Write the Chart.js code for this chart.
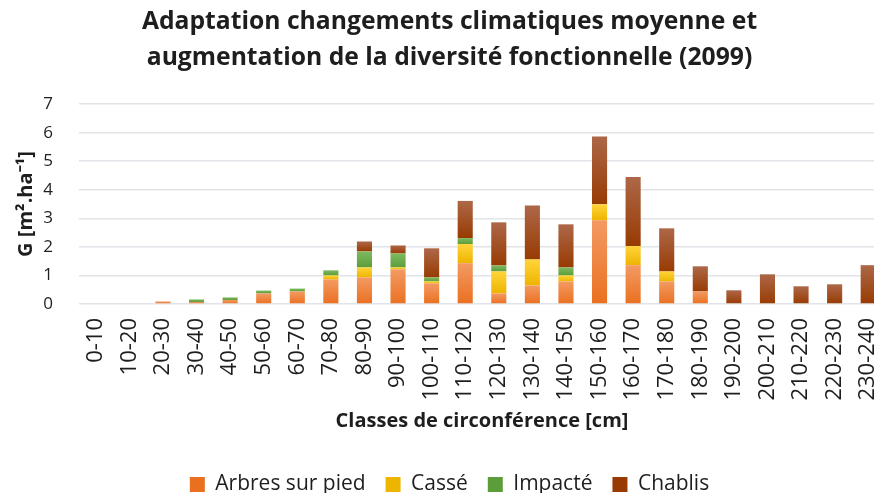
<!DOCTYPE html>
<html>
<head>
<meta charset="utf-8">
<script src="https://cdn.jsdelivr.net/npm/chart.js@4"></script>
<style>
  body { margin: 0; overflow: hidden; background: #fff; }
  #wrap { width: 902px; height: 505px; }
</style>
</head>
<body>
<div id="wrap"><canvas id="myChart" width="902" height="505"></canvas></div>
<script>
const categories = ['0-10', '10-20', '20-30', '30-40', '40-50', '50-60', '60-70', '70-80',
  '80-90', '90-100', '100-110', '110-120', '120-130', '130-140', '140-150', '150-160',
  '160-170', '170-180', '180-190', '190-200', '200-210', '210-220', '220-230', '230-240'];

const arbres  = [0, 0, 0.09, 0.07, 0.14, 0.37, 0.44, 0.86, 0.93, 1.21, 0.72, 1.43, 0.37, 0.65, 0.79, 2.93, 1.36, 0.79, 0.44, 0, 0, 0, 0, 0];
const casse   = [0, 0, 0, 0, 0, 0, 0, 0.14, 0.35, 0.07, 0.07, 0.67, 0.77, 0.91, 0.21, 0.56, 0.67, 0.35, 0, 0, 0, 0, 0, 0];
const impacte = [0, 0, 0, 0.09, 0.09, 0.1, 0.1, 0.18, 0.56, 0.49, 0.14, 0.21, 0.21, 0, 0.28, 0, 0, 0, 0, 0, 0, 0, 0, 0];
const chablis = [0, 0, 0, 0, 0, 0, 0, 0, 0.35, 0.28, 1.02, 1.3, 1.51, 1.89, 1.51, 2.38, 2.42, 1.51, 0.88, 0.48, 1.04, 0.62, 0.69, 1.36];

const yTicks = [0, 1, 2, 3, 4, 5, 6, 7];

// light at top, dark at bottom, like the office fill
const colours = [
  ['#f39a63', '#ea7020'],
  ['#ffd43a', '#eeb500'],
  ['#7fb961', '#5b9d38'],
  ['#ad6748', '#983b02']
];

const series = [arbres, casse, impacte, chablis];

function fill(idx) {
  return function (c) {
    const chart = c.chart;
    if (c.dataIndex === undefined || !chart.chartArea || !chart.scales.y) return colours[idx][1];
    let below = 0;
    for (let k = 0; k < idx; k++) below += series[k][c.dataIndex];
    const v = series[idx][c.dataIndex];
    const y = chart.scales.y;
    const top = y.getPixelForValue(below + v);
    const bot = y.getPixelForValue(below);
    if (!(bot - top > 0.5)) return colours[idx][1];
    const g = chart.ctx.createLinearGradient(0, top, 0, bot);
    g.addColorStop(0, colours[idx][0]);
    g.addColorStop(1, colours[idx][1]);
    return g;
  };
}

const font = '"Open Sans", sans-serif';
const ink = '#1e1e1e';

const data = {
  labels: categories,
  datasets: [
    { label: 'Arbres sur pied', data: arbres, backgroundColor: fill(0) },
    { label: 'Cassé', data: casse, backgroundColor: fill(1) },
    { label: 'Impacté', data: impacte, backgroundColor: fill(2) },
    { label: 'Chablis', data: chablis, backgroundColor: fill(3) }
  ]
};

const ctx = document.getElementById('myChart').getContext('2d');

const myChart = new Chart(ctx, {
  type: 'bar',
  data: data,
  options: {
    responsive: false,
    animation: false,
    datasets: { bar: { categoryPercentage: 1, barPercentage: 0.45 } },
    layout: { padding: { left: 14, right: 17, top: 4, bottom: 0 } },
    plugins: {
      title: {
        display: true,
        text: ['Adaptation changements climatiques moyenne et', 'augmentation de la diversité fonctionnelle (2099)'],
        color: ink,
        font: { family: font, size: 24.7, weight: 'bold', lineHeight: 1.46 },
        padding: { top: 0, bottom: 28 }
      },
      legend: {
        position: 'bottom',
        labels: {
          color: ink,
          font: { family: font, size: 21 },
          boxWidth: 15,
          boxHeight: 15,
          padding: 20
        }
      },
      tooltip: { enabled: false }
    },
    scales: {
      x: {
        stacked: true,
        grid: { display: false, drawTicks: false },
        border: { display: false },
        afterFit: function (axis) {
          axis.height = 150;
          // the last column runs off the right edge in the original
          axis.paddingLeft = 0;
          axis.paddingRight = 0;
        },
        ticks: {
          color: ink,
          font: { family: font, size: 22 },
          minRotation: 90,
          maxRotation: 90,
          padding: 14,
          autoSkip: false
        },
        title: {
          display: true,
          text: 'Classes de circonférence [cm]',
          color: ink,
          font: { family: font, size: 20, weight: 'bold' },
          padding: { top: 0, bottom: 21 }
        }
      },
      y: {
        stacked: true,
        min: 0,
        max: 7,
        afterBuildTicks: function (axis) {
          axis.ticks = yTicks.map(v => ({ value: v }));
        },
        afterFit: function (axis) { axis.width = 65; },
        grid: { color: '#e1e4e8', lineWidth: 1.5, drawTicks: false },
        border: { display: false },
        ticks: {
          color: ink,
          font: { family: font, size: 17 },
          padding: 26
        },
        title: {
          display: true,
          text: 'G [m².ha⁻¹]',
          color: ink,
          font: { family: font, size: 20, weight: 'bold' },
          padding: { top: 0, bottom: 0 }
        }
      }
    }
  }
});
</script>
</body>
</html>
